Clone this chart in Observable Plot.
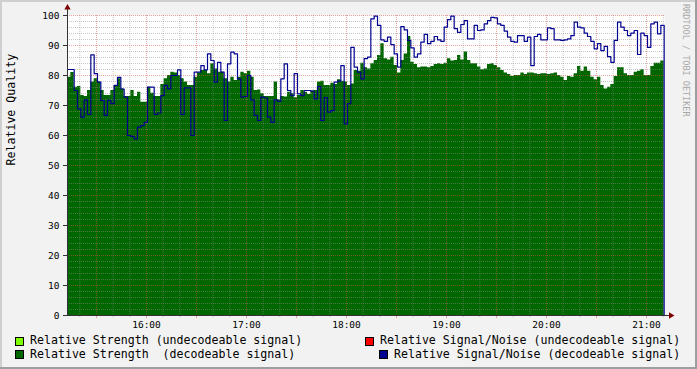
<!DOCTYPE html>
<html>
<head>
<meta charset="utf-8">
<script src="https://cdn.jsdelivr.net/npm/d3@7"></script>
<script src="https://cdn.jsdelivr.net/npm/@observablehq/plot@0.6"></script>
<style>
  html, body { margin: 0; padding: 0; background: #f2f2f2; }
  #wrap { position: relative; width: 697px; height: 369px; background: #f2f2f2; overflow: hidden;
          font-family: "DejaVu Sans Mono", monospace; }
  #chart svg { display: block; }
  .shade { position: absolute; }
  .lg { position: absolute; font-size: 11.6px; line-height: 11.6px; white-space: pre; color: #000; }
  .box { position: absolute; width: 7px; height: 7px; border: 1px solid #000; }
  #credit { position: absolute; left: 681px; top: 4px; writing-mode: vertical-rl; font-size: 8.5px;
            color: #a8a8a8; white-space: pre; line-height: 10px; }
</style>
</head>
<body>
<div id="wrap">
  <div id="chart"></div>
  <div id="credit">RRDTOOL / TOBI OETIKER</div>
  <div class="box" style="left:15px;top:337px;background:#80ff00"></div>
  <div class="lg" style="left:30px;top:335px">Relative Strength (undecodeable signal)</div>
  <div class="box" style="left:15px;top:350px;background:#006600"></div>
  <div class="lg" style="left:30px;top:349px">Relative Strength  (decodeable signal)</div>
  <div class="box" style="left:365px;top:337px;background:#ff0000"></div>
  <div class="lg" style="left:380px;top:335px">Relative Signal/Noise (undecodeable signal)</div>
  <div class="box" style="left:379px;top:350px;background:#000090"></div>
  <div class="lg" style="left:394px;top:349px">Relative Signal/Noise (decodeable signal)</div>
  <div class="shade" style="left:0;top:0;width:697px;height:2px;background:#cfcfcf"></div>
  <div class="shade" style="left:0;top:0;width:2px;height:369px;background:#cfcfcf"></div>
  <div class="shade" style="left:695px;top:0;width:2px;height:369px;background:#9e9e9e"></div>
  <div class="shade" style="left:0;top:367px;width:697px;height:2px;background:#9e9e9e"></div>
</div>
<script>
// ---- data ----
const startMinute = 12.6;   // minutes after 15:00 of first sample
const stepMinutes = 2;      // sample spacing
const endMinute = 370.8;    // right edge of the time axis

const strength = [
  79.4, 81, 76.1, 76.3, 73.3, 73, 75, 77.8, 78.9, 77.8, 75, 73.3, 73.3, 75, 76.7, 78.9, 75.5, 73, 73, 75, 73, 74.4, 71.1, 71.1, 76.1, 74.1, 73, 73, 77, 78.9,
  80, 81.1, 80.8, 80, 78.9, 77.8, 76.7, 76.7, 79.4, 80.8, 81.7, 81.7, 80.6, 83.9, 82.2, 81.1, 81.1, 78.9, 77.8, 79.4, 78.3, 79.4, 81.1, 80.6, 81.4, 79.4, 75, 75.2, 73.9, 73,
  73, 73, 77.8, 71.9, 73, 72.8, 74.4, 73.9, 72.6, 73.3, 75, 74.4, 73.7, 74.8, 75, 77.8, 78.1, 76.7, 76.7, 77.4, 77, 78.6, 78.1, 77.8, 76.7, 77.2, 81.7, 81.4, 84.1, 82.6,
  82.2, 83.9, 85, 86.7, 90.6, 85.6, 85.2, 86.1, 83.3, 80.8, 85, 87.2, 93, 84.4, 83.7, 82.6, 82.8, 82.8, 82.6, 83, 83.7, 83.9, 83.7, 84.1, 85.6, 84.8, 85, 86.7, 85.2, 87.8,
  85, 83.9, 83.9, 82.8, 81.9, 82.2, 83.7, 83.9, 83.3, 82.6, 81.7, 80.8, 80.3, 79.7, 80, 80, 80.8, 80.3, 80.8, 80.8, 80.6, 80.3, 80.6, 80.6, 80.3, 80.6, 80.8, 80, 79.4, 78.3,
  79.7, 79.4, 80.6, 83, 81.4, 82.8, 81.4, 79.4, 78.6, 79.4, 76.7, 75.5, 76.1, 77, 79.7, 82.6, 82.6, 80.6, 80, 80, 81.1, 81.4, 81.9, 80, 80, 83, 84.1, 84.1, 84.8, 83.3
];
const signalNoise = [
  82, 82, 75, 68.9, 66.1, 71.9, 67, 86.9, 80.6, 77.8, 71.7, 66.7, 71.7, 70.6, 76.7, 79.4, 75.5, 72.8, 60, 59.7, 58.9, 62.8, 63.3, 64.4, 76.1, 76.1, 67, 67.5, 73.3, 76.7,
  75.6, 80, 80, 81.9, 67, 75.9, 75.9, 60, 81.1, 81.1, 83.3, 81.9, 87.2, 85, 77.8, 84.4, 81.1, 65, 83.9, 87.8, 87.2, 78.9, 72.8, 73, 80, 71.9, 66.7, 65, 72.8, 72.5,
  66.1, 64.4, 71.9, 71.4, 78.9, 83.9, 75, 73.3, 80.6, 73.9, 73.3, 75, 75, 74.8, 72.2, 76.3, 65, 72.6, 67.8, 68.3, 77.8, 78.1, 83.3, 63.9, 70.6, 89.4, 82.8, 81.1, 78.9, 85.6,
  86.1, 98.9, 99.8, 96.7, 91.9, 91.4, 92.8, 90.3, 87.2, 82.8, 96.3, 95.2, 91.7, 89.2, 86.1, 87.2, 91.1, 93.7, 90.6, 91.4, 93, 91.9, 91.4, 96.1, 98.6, 99.8, 95.6, 94.4, 97, 98.3,
  92.2, 92.2, 96.7, 95, 95.2, 97.2, 98.3, 99.4, 99.2, 97.2, 96.7, 94.8, 92.8, 91.4, 91.1, 93.3, 93.3, 91.4, 92.8, 83.3, 93, 93.7, 91.9, 91.9, 95.9, 95.6, 91.9, 91.9, 91.7, 91.9,
  92.2, 93.3, 97.8, 96.1, 95.9, 94.1, 93, 91.4, 88.9, 90.6, 88.3, 89.7, 86.3, 84.4, 91.7, 97.8, 96.1, 95, 93.3, 94.1, 95, 87, 94.1, 93.3, 89.4, 97.2, 97.8, 93.9, 96.7, 95
];
const yTicks = [0, 10, 20, 30, 40, 50, 60, 70, 80, 90, 100];
const yMinorGrid = [2,4,6,8,12,14,16,18,22,24,26,28,32,34,36,38,42,44,46,48,52,54,56,58,62,64,66,68,72,74,76,78,82,84,86,88,92,94,96,98];
const yMajorGrid = [10,20,30,40,50,60,70,80,90,100];
const xMinorMinutes = [20,40,50,70,80,100,110,130,140,160,170,190,200,220,230,250,260,280,290,310,320,340,350,370];
const xMajorMinutes = [30,60,90,120,150,180,210,240,270,300,330,360];
const xLabelMinutes = [60,120,180,240,300,360];

// ---- build ----
const base = new Date(2000, 0, 1, 15, 0, 0);
const at = m => new Date(base.getTime() + m * 60000);
const rows = strength.map((v, i) => ({t: at(startMinute + i * stepMinutes), strength: v, snr: signalNoise[i]}));
const lastT = rows[rows.length - 1].t;
const snrRows = rows.map(d => ({t: d.t, v: d.snr})).concat([{t: lastT, v: 0}]);

const x0 = at(startMinute), x1 = at(endMinute);
const gridMinor = "rgba(143,143,143,0.5)";
const gridMajor = "rgba(222,80,80,0.5)";

const chart = Plot.plot({
  width: 697, height: 332,
  marginLeft: 67, marginRight: 33, marginTop: 15, marginBottom: 17,
  style: {background: "transparent", fontFamily: "DejaVu Sans Mono", fontSize: "9.5px", color: "#000"},
  x: {type: "time", domain: [x0, x1]},
  y: {domain: [0, 100]},
  marks: [
    Plot.frame({fill: "white", stroke: null}),
    Plot.areaY(rows, {x: "t", y: "strength", curve: "step-after", fill: "#006600"}),
    Plot.ruleY(yMinorGrid, {stroke: gridMinor, strokeDasharray: "1,1"}),
    Plot.ruleX(xMinorMinutes.map(at), {stroke: gridMinor, strokeDasharray: "1,1"}),
    Plot.ruleY(yMajorGrid, {stroke: gridMajor, strokeDasharray: "1,1"}),
    Plot.ruleX(xMajorMinutes.map(at), {stroke: gridMajor, strokeDasharray: "1,1"}),
    Plot.lineY(snrRows, {x: "t", y: "v", curve: "step-after", stroke: "#000090", strokeWidth: 1.2}),
    // axis ticks on the time axis
    Plot.ruleX(xMinorMinutes.map(at), {y1: 0, y2: -0.7, stroke: gridMinor}),
    Plot.ruleX(xMajorMinutes.map(at), {y1: 0, y2: -1, stroke: gridMajor}),
    // axis lines
    Plot.ruleX([x0], {y1: 0, y2: 102.5, stroke: "#333"}),
    Plot.ruleY([0], {x1: x0, x2: at(endMinute + 3.6), stroke: "#333"}),
    // arrows
    Plot.dot([x0], {x: d => d, y: 102.6, symbol: "triangle2", r: 3, fill: "#800000", stroke: null}),
    Plot.dot([at(endMinute + 3.8)], {x: d => d, y: 0, symbol: "triangle2", r: 3, rotate: 90, fill: "#800000", stroke: null}),
    Plot.axisY({ticks: yTicks, tickSize: 4, tickPadding: 4, label: null, stroke: "#333"}),
    Plot.axisX({ticks: xLabelMinutes.map(at), tickSize: 0, tickPadding: 6, label: null,
                tickFormat: d3.timeFormat("%H:%M")}),
    Plot.text(["Relative Quality"], {frameAnchor: "left", dx: -56, rotate: -90, fontSize: 11.6})
  ]
});
document.getElementById("chart").appendChild(chart);
</script>
</body>
</html>
